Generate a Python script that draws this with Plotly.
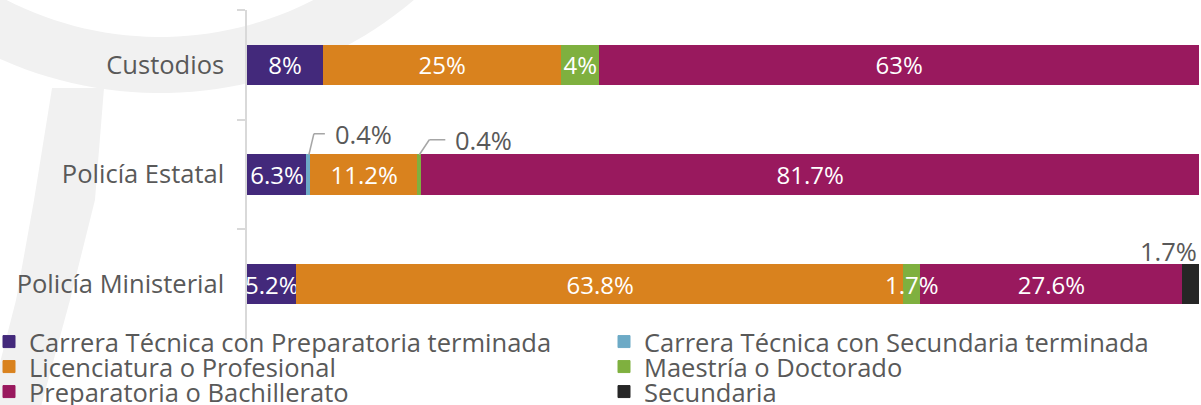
import numpy as np
import plotly.graph_objects as go

# ---------------- data ----------------
categories = ["Custodios", "Policía Estatal", "Policía Ministerial"]
series_names = [
    "Carrera Técnica con Preparatoria terminada",
    "Carrera Técnica con Secundaria terminada",
    "Licenciatura o Profesional",
    "Maestría o Doctorado",
    "Preparatoria o Bachillerato",
    "Secundaria",
]
prep_terminada = [8, 6.3, 5.2]
sec_terminada = [0, 0.4, 0]
licenciatura = [25, 11.2, 63.8]
maestria = [4, 0.4, 1.7]
preparatoria = [63, 81.7, 27.6]
secundaria = [0, 0, 1.7]
series_values = [prep_terminada, sec_terminada, licenciatura, maestria, preparatoria, secundaria]
colors = ["#43297B", "#6DAAC6", "#D9821E", "#7FB03F", "#99195E", "#262626"]

# labels not drawn as plain inside text: (series index, category index, style, rise px, dx px, len px)
callouts = [
    (1, 1, "leader", 21, 5, 11),
    (3, 1, "leader", 15, 10, 16),
    (3, 2, "overflow", 0, 0, 0),
    (5, 2, "above", 0, 0, 0),
]

FONT = "Open Sans"
TXT = "#595959"
FS_AXIS = 25.5
FS_BAR = 24

# ---------------- layout geometry ----------------
W, H = 1201, 405
ML, MR, MT, MB = 247, 2, 10, 66
PW, PH = W - ML - MR, H - MT - MB
BARGAP = 0.64
CAT_PX = PH / len(categories)


def px_to_paper(px, py):
    return (px - ML) / PW, (H - MB - py) / PH


fig = go.Figure()

callout_set = {(c[0], c[1]) for c in callouts}
legend_ids = ["legend", "legend2", "legend3", "legend4", "legend5", "legend6"]
for si, (name, vals, col) in enumerate(zip(series_names, series_values, colors)):
    texts = []
    for ci, v in enumerate(vals):
        if v == 0 or (si, ci) in callout_set:
            texts.append("")
        else:
            texts.append(f"{v:g}%")
    fig.add_trace(go.Bar(
        y=categories, x=vals, name=name, orientation="h",
        marker=dict(color=col, line=dict(width=1, color=col)),
        text=texts, textposition="inside", insidetextanchor="middle",
        textangle=0, textfont=dict(family=FONT, size=FS_BAR, color="white"),
        cliponaxis=False, hoverinfo="skip", legend=legend_ids[si],
    ))

# ---------------- callout labels ----------------
px_per_unit = PW / 100.0
half_bar = (1 - BARGAP) / 2
for si, ci, style, rise_px, dx_px, len_px in callouts:
    vals = series_values[si]
    start = sum(series_values[k][ci] for k in range(si))
    center = start + vals[ci] / 2
    label = f"{vals[ci]:g}%"
    top = ci - half_bar
    if style == "leader":
        rise = rise_px / CAT_PX
        ex = center + dx_px / px_per_unit
        hx = ex + len_px / px_per_unit
        fig.add_shape(type="line", xref="x", yref="y", x0=center, y0=top, x1=ex, y1=top - rise,
                      line=dict(color="#A6A6A6", width=1.5))
        fig.add_shape(type="line", xref="x", yref="y", x0=ex, y0=top - rise, x1=hx, y1=top - rise,
                      line=dict(color="#A6A6A6", width=1.5))
        fig.add_annotation(x=hx, y=top - rise, xref="x", yref="y", text=label, showarrow=False,
                           xanchor="left", yanchor="middle", xshift=8,
                           font=dict(family=FONT, size=FS_AXIS, color=TXT))
    elif style == "overflow":
        fig.add_annotation(x=center, y=ci, xref="x", yref="y", text=label, showarrow=False,
                           xanchor="center", yanchor="middle",
                           font=dict(family=FONT, size=FS_BAR, color="white"))
    else:
        fig.add_annotation(x=start + vals[ci], y=top, xref="x", yref="y", text=label,
                           showarrow=False, xanchor="right", yanchor="bottom", yshift=-6,
                           font=dict(family=FONT, size=FS_AXIS, color=TXT))

# ---------------- background watermark (decorative) ----------------
cx, cy, r_in, r_out = 160, -300, 337, 393
th = np.linspace(np.radians(25), np.radians(165), 80)
outer = [(cx + r_out * np.cos(t), cy + r_out * np.sin(t)) for t in th]
inner = [(cx + r_in * np.cos(t), cy + r_in * np.sin(t)) for t in th[::-1]]
ring = outer + inner
stem = [(52, 88), (104, 88), (95, 200), (70, 300), (40, 410), (-12, 410), (16, 300), (34, 200)]


def path_from(points):
    pts = [px_to_paper(x, y) for x, y in points]
    return "M " + " L ".join(f"{a:.4f},{b:.4f}" for a, b in pts) + " Z"


for poly in (ring, stem):
    fig.add_shape(type="path", xref="paper", yref="paper", path=path_from(poly),
                  fillcolor="#F1F1F1", line=dict(width=0), layer="below")

# ---------------- legends: 2 columns x 3 rows ----------------
legend_cols_px = [-11, 604]          # left edge of each legend box (px)
legend_rows_px = [342, 367, 392]     # vertical centre of each row (px)
legend_layouts = {}
for i, lid in enumerate(legend_ids):
    row, colm = divmod(i, 2)
    lx, _ = px_to_paper(legend_cols_px[colm], 0)
    legend_layouts[lid] = dict(
        xref="paper", yref="container",
        x=lx, y=1 - legend_rows_px[row] / H,
        xanchor="left", yanchor="middle", orientation="v",
        bgcolor="rgba(0,0,0,0)", borderwidth=0,
        font=dict(family=FONT, size=FS_AXIS, color=TXT),
    )

fig.update_layout(
    width=W, height=H,
    margin=dict(l=ML, r=MR, t=MT, b=MB, autoexpand=False),
    barmode="stack", bargap=BARGAP,
    paper_bgcolor="white", plot_bgcolor="rgba(0,0,0,0)",
    font=dict(family=FONT, size=FS_AXIS, color=TXT),
    uniformtext=dict(minsize=FS_BAR, mode="show"),
    xaxis=dict(range=[0, 100], visible=False, fixedrange=True),
    yaxis=dict(
        categoryorder="array", categoryarray=categories, autorange="reversed",
        showline=True, linecolor="#D9D9D9", linewidth=1.5,
        ticks="outside", ticklen=8, tickcolor="#D9D9D9", tickwidth=1.5,
        tickson="boundaries", ticklabelstandoff=16,
        tickfont=dict(family=FONT, size=FS_AXIS, color=TXT), showgrid=False,
    ),
    showlegend=True,
    **legend_layouts,
)

fig.write_html("out.html", config={"displayModeBar": False},
               post_script="document.body.style.margin='0';")
